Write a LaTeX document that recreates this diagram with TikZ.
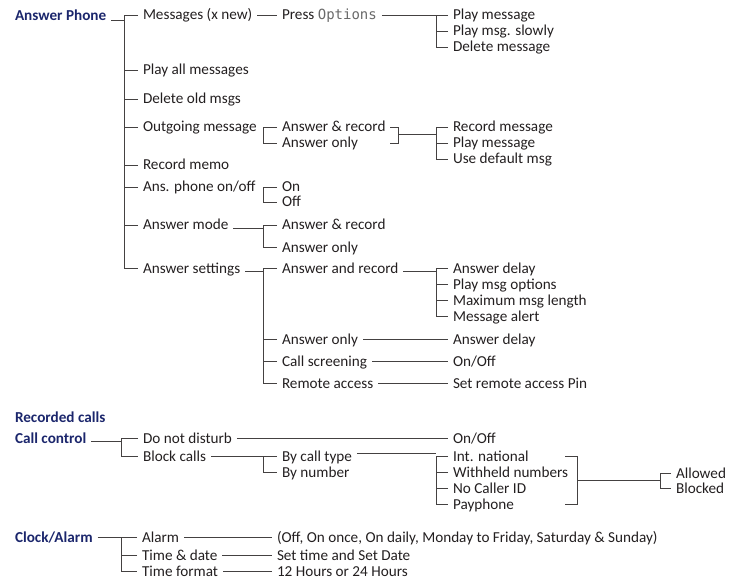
\documentclass[tikz,border=0pt]{standalone}
\usepackage{fontspec}
\setmainfont{Carlito}
\newfontfamily\lcdfont{DejaVu Sans Mono}
\usepackage{xcolor}
\usepackage{tikz}
\definecolor{menu_navy}{RGB}{27, 38, 108}
\definecolor{menu_ink}{RGB}{35, 31, 32}
\definecolor{lcd_grey}{RGB}{105, 105, 105}

\begin{document}
\begin{tikzpicture}[x=1pt, y=-1pt,
    every node/.style={font=\fontsize{15.2}{18}\selectfont, text=menu_ink},
    item/.style={anchor=west, xshift=-5pt, inner xsep=3pt, outer xsep=2pt,
                 inner ysep=0pt, text height=10pt, text depth=0pt},
    head/.style={item, font=\fontsize{15.2}{18}\selectfont\bfseries, text=menu_navy},
    wire/.style={draw=menu_ink!85, line width=0.9pt}]
        \useasboundingbox (0,0) rectangle (731,580);
        \coordinate (apT) at (124,0);
        \coordinate (ccT) at (121,0);
        \coordinate (colB) at (263,0);
        \coordinate (colC) at (436,0);
        \coordinate (ogR) at (398,0);
        \coordinate (bctR) at (577,0);
        \coordinate (abT) at (660,0);

        \node[head] (aphone) at (15,15.5) {Answer Phone};
        \node[item] (msgs) at (143,15) {Messages (x new)};
        \node[item] (press) at (282,15)
              {Press {\lcdfont\fontsize{14}{16}\selectfont\color{lcd_grey}Options}};
        \node[item] (pm1) at (453,15) {Play message};
        \node[item] (pms) at (453,31) {Play msg. slowly};
        \node[item] (dm) at (453,47) {Delete message};
        \node[item] (playall) at (143,70) {Play all messages};
        \node[item] (delold) at (143,99) {Delete old msgs};
        \node[item] (outgo) at (143,127) {Outgoing message};
        \node[item] (ar1) at (282,127) {Answer \& record};
        \node[item] (ao1) at (282,143) {Answer only};
        \node[item] (rm) at (453,127) {Record message};
        \node[item] (pm2) at (453,143) {Play message};
        \node[item] (udm) at (453,159) {Use default msg};
        \node[item] (recmemo) at (143,165) {Record memo};
        \node[item] (onoff) at (143,187) {Ans. phone on/off};
        \node[item] (on) at (282,187) {On};
        \node[item] (off) at (282,202) {Off};
        \node[item] (amode) at (143,225) {Answer mode};
        \node[item] (ar2) at (282,225) {Answer \& record};
        \node[item] (ao2) at (282,247) {Answer only};
        \node[item] (aset) at (143,268) {Answer settings};
        \node[item] (anr) at (282,268) {Answer and record};
        \node[item] (ad1) at (453,268) {Answer delay};
        \node[item] (pmo) at (453,284) {Play msg options};
        \node[item] (mml) at (453,300) {Maximum msg length};
        \node[item] (mal) at (453,316) {Message alert};
        \node[item] (ao3) at (282,339) {Answer only};
        \node[item] (ad2) at (453,339) {Answer delay};
        \node[item] (cscr) at (282,361) {Call screening};
        \node[item] (oo1) at (453,361) {On/Off};
        \node[item] (racc) at (282,383) {Remote access};
        \node[item] (srp) at (453,383) {Set remote access Pin};

        \node[head] (rcalls) at (15,417) {Recorded calls};
        \node[head] (cctl) at (15,438) {Call control};
        \node[item] (dnd) at (143,438) {Do not disturb};
        \node[item] (oo2) at (453,438) {On/Off};
        \node[item] (blk) at (143,456) {Block calls};
        \node[item] (bct) at (282,456) {By call type};
        \node[item] (bnum) at (282,472) {By number};
        \node[item] (intl) at (453,456) {Int. national};
        \node[item] (whn) at (453,472) {Withheld numbers};
        \node[item] (ncid) at (453,488) {No Caller ID};
        \node[item] (pay) at (453,504) {Payphone};
        \node[item] (allow) at (676,473) {Allowed};
        \node[item] (block) at (676,488) {Blocked};

        \node[head] (clk) at (15,537) {Clock/Alarm};
        \node[item] (alarm) at (142,537) {Alarm};
        \node[item] (tdate) at (142,555) {Time \& date};
        \node[item] (tfmt) at (142,571) {Time format};
        \node[item] (aopts) at (277,537)
              {(Off, On once, On daily, Monday to Friday, Saturday \& Sunday)};
        \node[item] (stsd) at (277,555) {Set time and Set Date};
        \node[item] (hrs) at (277,571) {12 Hours or 24 Hours};

        \draw[wire] (aphone.south east) -- (aphone.south east -| apT);
        \draw[wire] (msgs.west) -- (msgs.west -| apT) -- (aset.west -| apT) -- (aset.west);
        \draw[wire] (playall.west) -- (playall.west -| apT);
        \draw[wire] (delold.west) -- (delold.west -| apT);
        \draw[wire] (outgo.west) -- (outgo.west -| apT);
        \draw[wire] (recmemo.west) -- (recmemo.west -| apT);
        \draw[wire] (onoff.west) -- (onoff.west -| apT);
        \draw[wire] (amode.west) -- (amode.west -| apT);

        \draw[wire] (msgs.east) -- (press.west);
        \draw[wire] (press.east) -- (press.east -| colC);
        \draw[wire] (pm1.west) -- (pm1.west -| colC) -- (dm.west -| colC) -- (dm.west);
        \draw[wire] (pms.west) -- (pms.west -| colC);

        \draw[wire] (ar1.west) -- (ar1.west -| colB) -- (ao1.west -| colB) -- (ao1.west);
        \draw[wire] ([xshift=-8pt]ar1.east -| ogR) -- (ar1.east -| ogR)
              -- (ao1.east -| ogR) -- ++(-8,0);
        \coordinate (ogM) at (398,134);
        \draw[wire] (ogM) -- (ogM -| colC);
        \draw[wire] (rm.west) -- (rm.west -| colC) -- (udm.west -| colC) -- (udm.west);
        \draw[wire] (pm2.west) -- (pm2.west -| colC);

        \draw[wire] (on.west) -- (on.west -| colB) -- (off.west -| colB) -- (off.west);

        \draw[wire] ([yshift=-3pt]amode.east) -- ([yshift=-3pt]amode.east -| colB);
        \draw[wire] (ar2.west) -- (ar2.west -| colB) -- (ao2.west -| colB) -- (ao2.west);

        \draw[wire] ([yshift=-3pt]aset.east) -- ([yshift=-3pt]aset.east -| colB);
        \draw[wire] (anr.west) -- (anr.west -| colB) -- (racc.west -| colB) -- (racc.west);
        \draw[wire] (ao3.west) -- (ao3.west -| colB);
        \draw[wire] (cscr.west) -- (cscr.west -| colB);
        \draw[wire] ([yshift=-3pt]anr.east) -- ([yshift=-3pt]anr.east -| colC);
        \draw[wire] (ad1.west) -- (ad1.west -| colC) -- (mal.west -| colC) -- (mal.west);
        \draw[wire] (pmo.west) -- (pmo.west -| colC);
        \draw[wire] (mml.west) -- (mml.west -| colC);
        \draw[wire] (ao3.east) -- (ad2.west);
        \draw[wire] (cscr.east) -- (oo1.west);
        \draw[wire] (racc.east) -- (srp.west);

        \draw[wire] ([yshift=-3pt]cctl.east) -- ([yshift=-3pt]cctl.east -| ccT);
        \draw[wire] (dnd.west) -- (dnd.west -| ccT) -- (blk.west -| ccT) -- (blk.west);
        \draw[wire] (dnd.east) -- (oo2.west);
        \draw[wire] (blk.east) -- (blk.east -| colB);
        \draw[wire] (bct.west) -- (bct.west -| colB) -- (bnum.west -| colB) -- (bnum.west);
        \draw[wire] ([yshift=3pt]bct.east) -- ([yshift=3pt]bct.east -| colC);
        \draw[wire] (intl.west) -- (intl.west -| colC) -- (pay.west -| colC) -- (pay.west);
        \draw[wire] (whn.west) -- (whn.west -| colC);
        \draw[wire] (ncid.west) -- (ncid.west -| colC);
        \draw[wire] ([xshift=-12pt]intl.east -| bctR) -- (intl.east -| bctR)
              -- (pay.east -| bctR) -- ++(-12,0);
        \coordinate (bctM) at (577,480);
        \draw[wire] (bctM) -- (bctM -| abT);
        \draw[wire] (allow.west) -- (allow.west -| abT) -- (block.west -| abT) -- (block.west);

        \draw[wire] (clk.east) -- (clk.east -| ccT);
        \draw[wire] (alarm.west) -- (alarm.west -| ccT) -- (tfmt.west -| ccT) -- (tfmt.west);
        \draw[wire] (tdate.west) -- (tdate.west -| ccT);
        \draw[wire] (alarm.east) -- (aopts.west);
        \draw[wire] (tdate.east) -- (stsd.west);
        \draw[wire] (tfmt.east) -- (hrs.west);
      \end{tikzpicture}
\end{document}
